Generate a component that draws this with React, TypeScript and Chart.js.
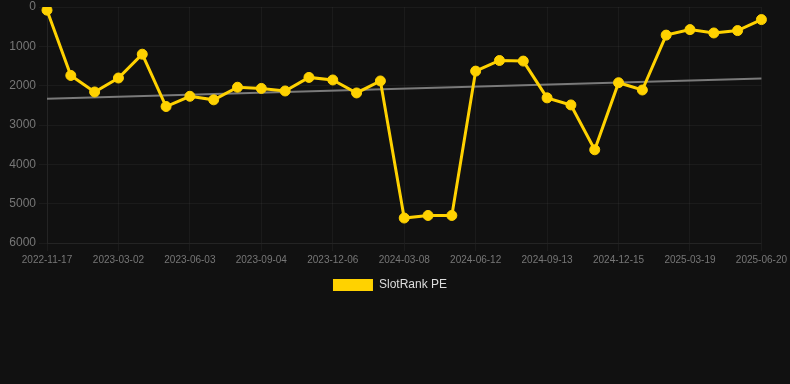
import React, { useEffect, useRef } from "react";
import { Chart, registerables } from "chart.js";

Chart.register(...registerables);

const dates: string[] = [
  "2022-11-17", "2022-12-22", "2023-01-26",
  "2023-03-02", "2023-04-02", "2023-05-03",
  "2023-06-03", "2023-07-04", "2023-08-04",
  "2023-09-04", "2023-10-05", "2023-11-05",
  "2023-12-06", "2024-01-06", "2024-02-06",
  "2024-03-08", "2024-04-09", "2024-05-11",
  "2024-06-12", "2024-07-13", "2024-08-13",
  "2024-09-13", "2024-10-14", "2024-11-14",
  "2024-12-15", "2025-01-15", "2025-02-16",
  "2025-03-19", "2025-04-19", "2025-05-20",
  "2025-06-20",
];

const slotRankPE: number[] = [
  80, 1740, 2160, 1805, 1200, 2530, 2270, 2360, 2040, 2070,
  2135, 1790, 1855, 2185, 1880, 5365, 5300, 5300, 1630, 1360,
  1375, 2310, 2490, 3630, 1925, 2110, 715, 575, 660, 600, 320,
];

const trendStart = 2330;
const trendEnd = 1815;

const yTicks: number[] = [0, 1000, 2000, 3000, 4000, 5000, 6000];

const FONT = "'Liberation Sans', Arial, Helvetica, sans-serif";
const GRID = "rgba(255,255,255,0.045)";

export default function App() {
  const ref = useRef<HTMLCanvasElement | null>(null);

  useEffect(() => {
    document.body.style.margin = "0";
    document.body.style.background = "#111111";
    const canvas = ref.current;
    if (!canvas) return;
    const trend = dates.map((_, i) =>
      i === 0 ? trendStart : i === dates.length - 1 ? trendEnd : null
    );
    const defaultLabels = Chart.defaults.plugins.legend.labels.generateLabels;
    const chart = new Chart(canvas, {
      type: "line",
      data: {
        labels: dates,
        datasets: [
          {
            label: "SlotRank PE",
            data: slotRankPE,
            borderColor: "#FFD200",
            backgroundColor: "#FFD200",
            borderWidth: 3,
            pointRadius: 5,
            pointBorderWidth: 1,
            pointBackgroundColor: "#FFD200",
            pointBorderColor: "#FFD200",
            tension: 0,
          },
          {
            label: "trend",
            data: trend,
            borderColor: "#7a7a7a",
            backgroundColor: "#7a7a7a",
            borderWidth: 2,
            pointRadius: 0,
            spanGaps: true,
          },
        ],
      },
      options: {
        animation: false,
        responsive: false,
        maintainAspectRatio: false,
        layout: { padding: { left: 0, right: 10, top: 0, bottom: 0 } },
        plugins: {
          legend: {
            position: "bottom",
            labels: {
              color: "#dddddd",
              font: { family: FONT, size: 12 },
              boxWidth: 40,
              boxHeight: 12,
              generateLabels: (c: any) =>
                defaultLabels(c)
                  .filter((l: any) => l.text === "SlotRank PE")
                  .map((l: any) => ({ ...l, lineWidth: 0 })),
            },
          },
          tooltip: { enabled: false },
        },
        scales: {
          x: {
            grid: { color: GRID, tickLength: 8 },
            border: { color: GRID },
            ticks: {
              color: "#777777",
              font: { family: FONT, size: 10 },
              maxRotation: 0,
              autoSkip: true,
              maxTicksLimit: 11,
            },
          },
          y: {
            reverse: true,
            min: yTicks[0],
            max: yTicks[yTicks.length - 1],
            afterBuildTicks: (axis: any) => {
              axis.ticks = yTicks.map((v) => ({ value: v }));
            },
            afterFit: (axis: any) => {
              axis.width = 47;
              axis.paddingTop = 7;
              axis.paddingBottom = 6;
            },
            grid: { color: GRID, tickLength: 8 },
            border: { color: GRID },
            ticks: {
              color: "#777777",
              font: { family: FONT, size: 12 },
              callback: (v: any) => String(v),
            },
          },
        },
      },
    });
    return () => chart.destroy();
  }, []);

  return (
    <div style={{ width: 790, height: 384, background: "#111111" }}>
      <canvas ref={ref} width={790} height={301} style={{ display: "block" }} />
    </div>
  );
}
